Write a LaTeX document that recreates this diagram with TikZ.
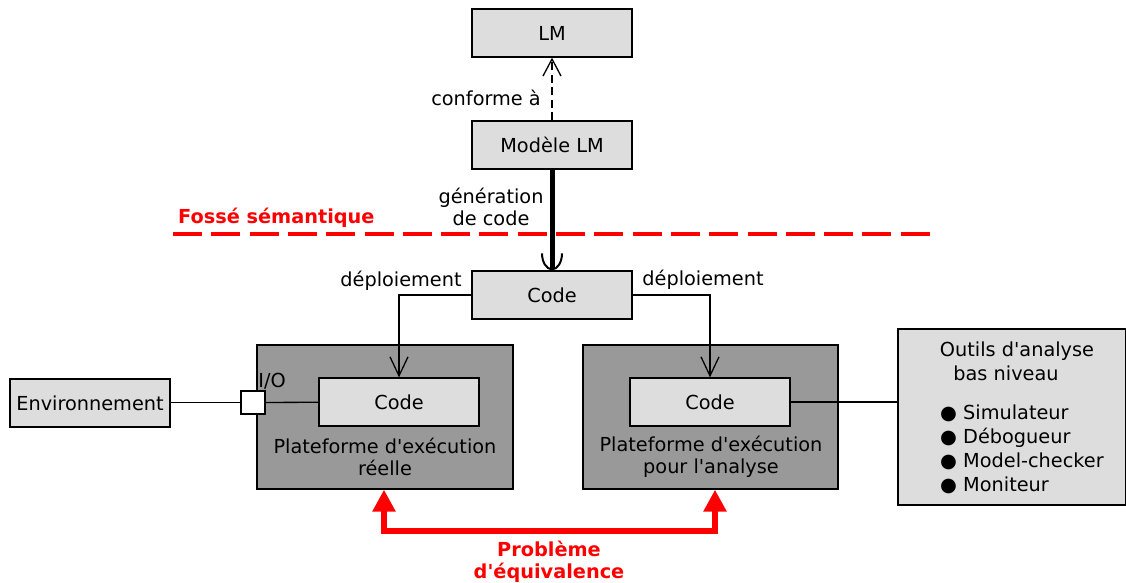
\documentclass[tikz,border=0pt]{standalone}
\usepackage{fontspec}
\setmainfont{DejaVu Sans}[Ligatures=TeXOff]
\usetikzlibrary{arrows.meta}
\definecolor{boxgray}{HTML}{DDDDDD}
\definecolor{platgray}{HTML}{999999}
\tikzset{
  base/.style={font=\fontsize{19.3}{22}\selectfont},
  box/.style={base, draw=black, line width=1.3pt, fill=boxgray, minimum width=160pt, minimum height=48pt, inner sep=0pt},
  plat/.style={draw=black, line width=1.3pt, fill=platgray, inner sep=0pt},
  lbl/.style={base, inner sep=0pt, align=center},
  redlbl/.style={base, inner sep=0pt, align=center, text=red, font=\fontsize{19.3}{22}\selectfont\bfseries},
  conn/.style={line width=1.3pt},
  barb/.style={-{Straight Barb[length=19pt,width=18pt,line width=1.3pt]}},
}
\begin{document}
\begin{tikzpicture}[x=1pt,y=-1pt]
\useasboundingbox (0,0) rectangle (1126,583);
% top boxes
\node[box] (lm) at (552,33) {LM};
\node[box] (mlm) at (552,145) {Modèle LM};
\node[box] (code) at (552,295) {Code};
% platforms
\node[plat, minimum width=256pt, minimum height=144pt] (platL) at (385,417) {};
\node[plat, minimum width=255pt, minimum height=144pt] (platR) at (710.5,417) {};
\node[box] (codeL) at (399,402) {Code};
\node[box] (codeR) at (710,402) {Code};
\node[lbl] (platLtxt) at (385,457) {Plateforme d'exécution\\réelle};
\node[lbl] (platRtxt) at (711,457) {Plateforme d'exécution\\pour l'analyse};
% environment and I/O
\node[box] (env) at (90,403) {Environnement};
\node[draw=black, fill=white, line width=1.3pt, minimum width=24pt, minimum height=23pt, inner sep=0pt] (io) at (253,402.5) {};
\node[lbl] (iotxt) at (272,381) {I/O};
% tools
\node[box, minimum width=227.5pt, minimum height=176pt] (outils) at (1011.75,417) {};
\node[lbl, font=\fontsize{19.3}{24}\selectfont] (outilshead) at (1017,361.5) {Outils d'analyse\\\hspace*{-22pt}bas niveau};
\node[lbl, align=left, anchor=west, font=\fontsize{19.3}{24}\selectfont] (outilslist) at (940,449.5) {●\ Simulateur\\●\ Débogueur\\●\ Model-checker\\●\ Moniteur};
% semantic gap
\coordinate (gapL) at (173,234);
\coordinate (gapR) at (932,234);
\draw[red, line width=4.3pt, dash pattern=on 29pt off 9.3pt] (gapL) -- (gapR);
\node[redlbl, anchor=west] (gaptxt) at (178,218) {Fossé sémantique};
% connectors
\draw[conn, dash pattern=on 8pt off 4.5pt, -{Straight Barb[length=17pt,width=18pt,line width=1.3pt]}] (mlm) -- (lm);
\node[lbl, anchor=east] (conftxt) at (541,98) {conforme à};
\draw[line width=5pt, -{Arc Barb[arc=180,length=17pt,width=22pt,line width=2pt]}] (mlm) -- (code);
\node[lbl] (gentxt) at (491,207) {génération\\de code};
\draw[conn, barb] (code.west) -| (codeL.north);
\draw[conn, barb] (code.east) -| (codeR.north);
\node[lbl] (depL) at (401,281) {déploiement};
\node[lbl] (depR) at (703,280) {déploiement};
\draw[conn] (env.east |- io) -- (io);
\draw[conn] (io) -- (codeL);
\draw[conn] (codeR.east) -- (codeR.east -| outils.west);
% equivalence
\coordinate (eqL) at (384,531);
\coordinate (eqR) at (715,531);
\draw[red, line width=6pt, line join=miter, {Triangle[length=22pt,width=22pt]}-{Triangle[length=22pt,width=22pt]}] (platL.south -| eqL) -- (eqL) -- (eqR) -- (platR.south -| eqR);
\node[redlbl] (eqtxt) at (549,562) {Problème\\d'équivalence};
\end{tikzpicture}
\end{document}
